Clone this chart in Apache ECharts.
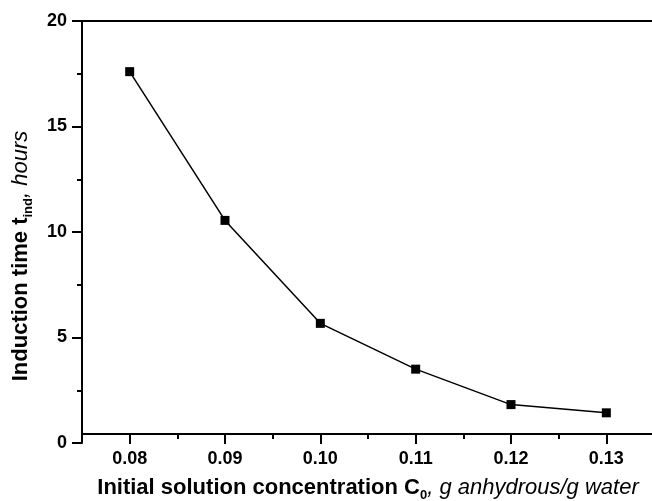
<!DOCTYPE html>
<html>
<head>
<meta charset="utf-8">
<script src="https://cdn.jsdelivr.net/npm/echarts@6/dist/echarts.min.js"></script>
<style>
  html, body { margin: 0; padding: 0; background: #fff; }
  #chart { width: 652px; height: 501px; }
</style>
</head>
<body>
<div id="chart"></div>
<script>
// 数据
const concentration = [0.08, 0.09, 0.10, 0.11, 0.12, 0.13];
const inductionTime = [17.6, 10.55, 5.67, 3.5, 1.82, 1.43];
const xTickLabels = ['0.08', '0.09', '0.10', '0.11', '0.12', '0.13'];
const xMinorTicks = [0.085, 0.095, 0.105, 0.115, 0.125];

const chart = echarts.init(document.getElementById('chart'));
const font = 'Liberation Sans, Arial, sans-serif';

const points = concentration.map((c, i) => [c, inductionTime[i]]);

// 轴标题富文本样式
const titleRich = {
    b: { fontFamily: font, fontWeight: 'bold', fontSize: 22, color: '#000', verticalAlign: 'bottom', lineHeight: 22 },
    sub: { fontFamily: font, fontWeight: 'bold', fontSize: 13, color: '#000', verticalAlign: 'bottom', lineHeight: 22, padding: [0, 0, -3, 0] },
    i: { fontFamily: font, fontStyle: 'italic', fontSize: 22, color: '#000', verticalAlign: 'bottom', lineHeight: 22 }
};

const option = {
    animation: false,
    backgroundColor: '#fff',
    grid: { left: 82, right: -2, top: 21, bottom: 58, outerBoundsMode: 'none' }, //右边框被裁掉
    xAxis: [{
        type: 'value',
        position: 'bottom',
        min: 0.075,
        max: 0.135,
        offset: -9, //x轴比y=0略高
        axisLine: { lineStyle: { color: '#000', width: 2 } },
        axisTick: {
            length: 10,
            customValues: concentration,
            lineStyle: { color: '#000', width: 2 }
        },
        splitLine: { show: false },
        axisLabel: {
            margin: 16,
            customValues: concentration,
            fontFamily: font,
            fontWeight: 'bold',
            fontSize: 18,
            color: '#000',
            formatter: function (v) {
                const idx = concentration.findIndex(c => Math.abs(c - v) < 1e-9);
                return idx >= 0 ? xTickLabels[idx] : '';
            }
        },
        name: '{b|Initial solution concentration C}{sub|0}{i|, g anhydrous/g water}',
        nameLocation: 'middle',
        nameGap: 43,
        nameTextStyle: { rich: titleRich }
    }, { //上边框
        type: 'value',
        position: 'top',
        min: 0.075,
        max: 0.135,
        axisLine: { lineStyle: { color: '#000', width: 2 } },
        axisTick: { show: false },
        axisLabel: { show: false },
        splitLine: { show: false }
    }, { //x轴次刻度
        type: 'value',
        position: 'bottom',
        min: 0.075,
        max: 0.135,
        offset: -9,
        axisLine: { show: false },
        axisTick: { length: 5, customValues: xMinorTicks, lineStyle: { color: '#000', width: 2 } },
        axisLabel: { show: false },
        splitLine: { show: false }
    }],
    yAxis: {
        type: 'value',
        min: 0,
        max: 20,
        interval: 5,
        axisLine: { show: true, lineStyle: { color: '#000', width: 2 } },
        axisTick: { show: true, length: 10, lineStyle: { color: '#000', width: 2 } },
        minorTick: { show: true, splitNumber: 2, length: 5, lineStyle: { color: '#000', width: 2 } },
        splitLine: { show: false },
        axisLabel: {
            margin: 15,
            fontFamily: font,
            fontWeight: 'bold',
            fontSize: 18,
            color: '#000'
        },
        name: '{b|Induction time t}{sub|ind}{i|, hours}',
        nameLocation: 'middle',
        nameGap: 50,
        nameTextStyle: { rich: titleRich, padding: [0, 48, 0, 0] }
    },
    series: [{
        type: 'line',
        xAxisIndex: 0,
        data: points,
        symbol: 'rect',
        symbolSize: 9,
        itemStyle: { color: '#000' },
        lineStyle: { color: '#000', width: 1.5 }
    }]
};

chart.setOption(option);
</script>
</body>
</html>
